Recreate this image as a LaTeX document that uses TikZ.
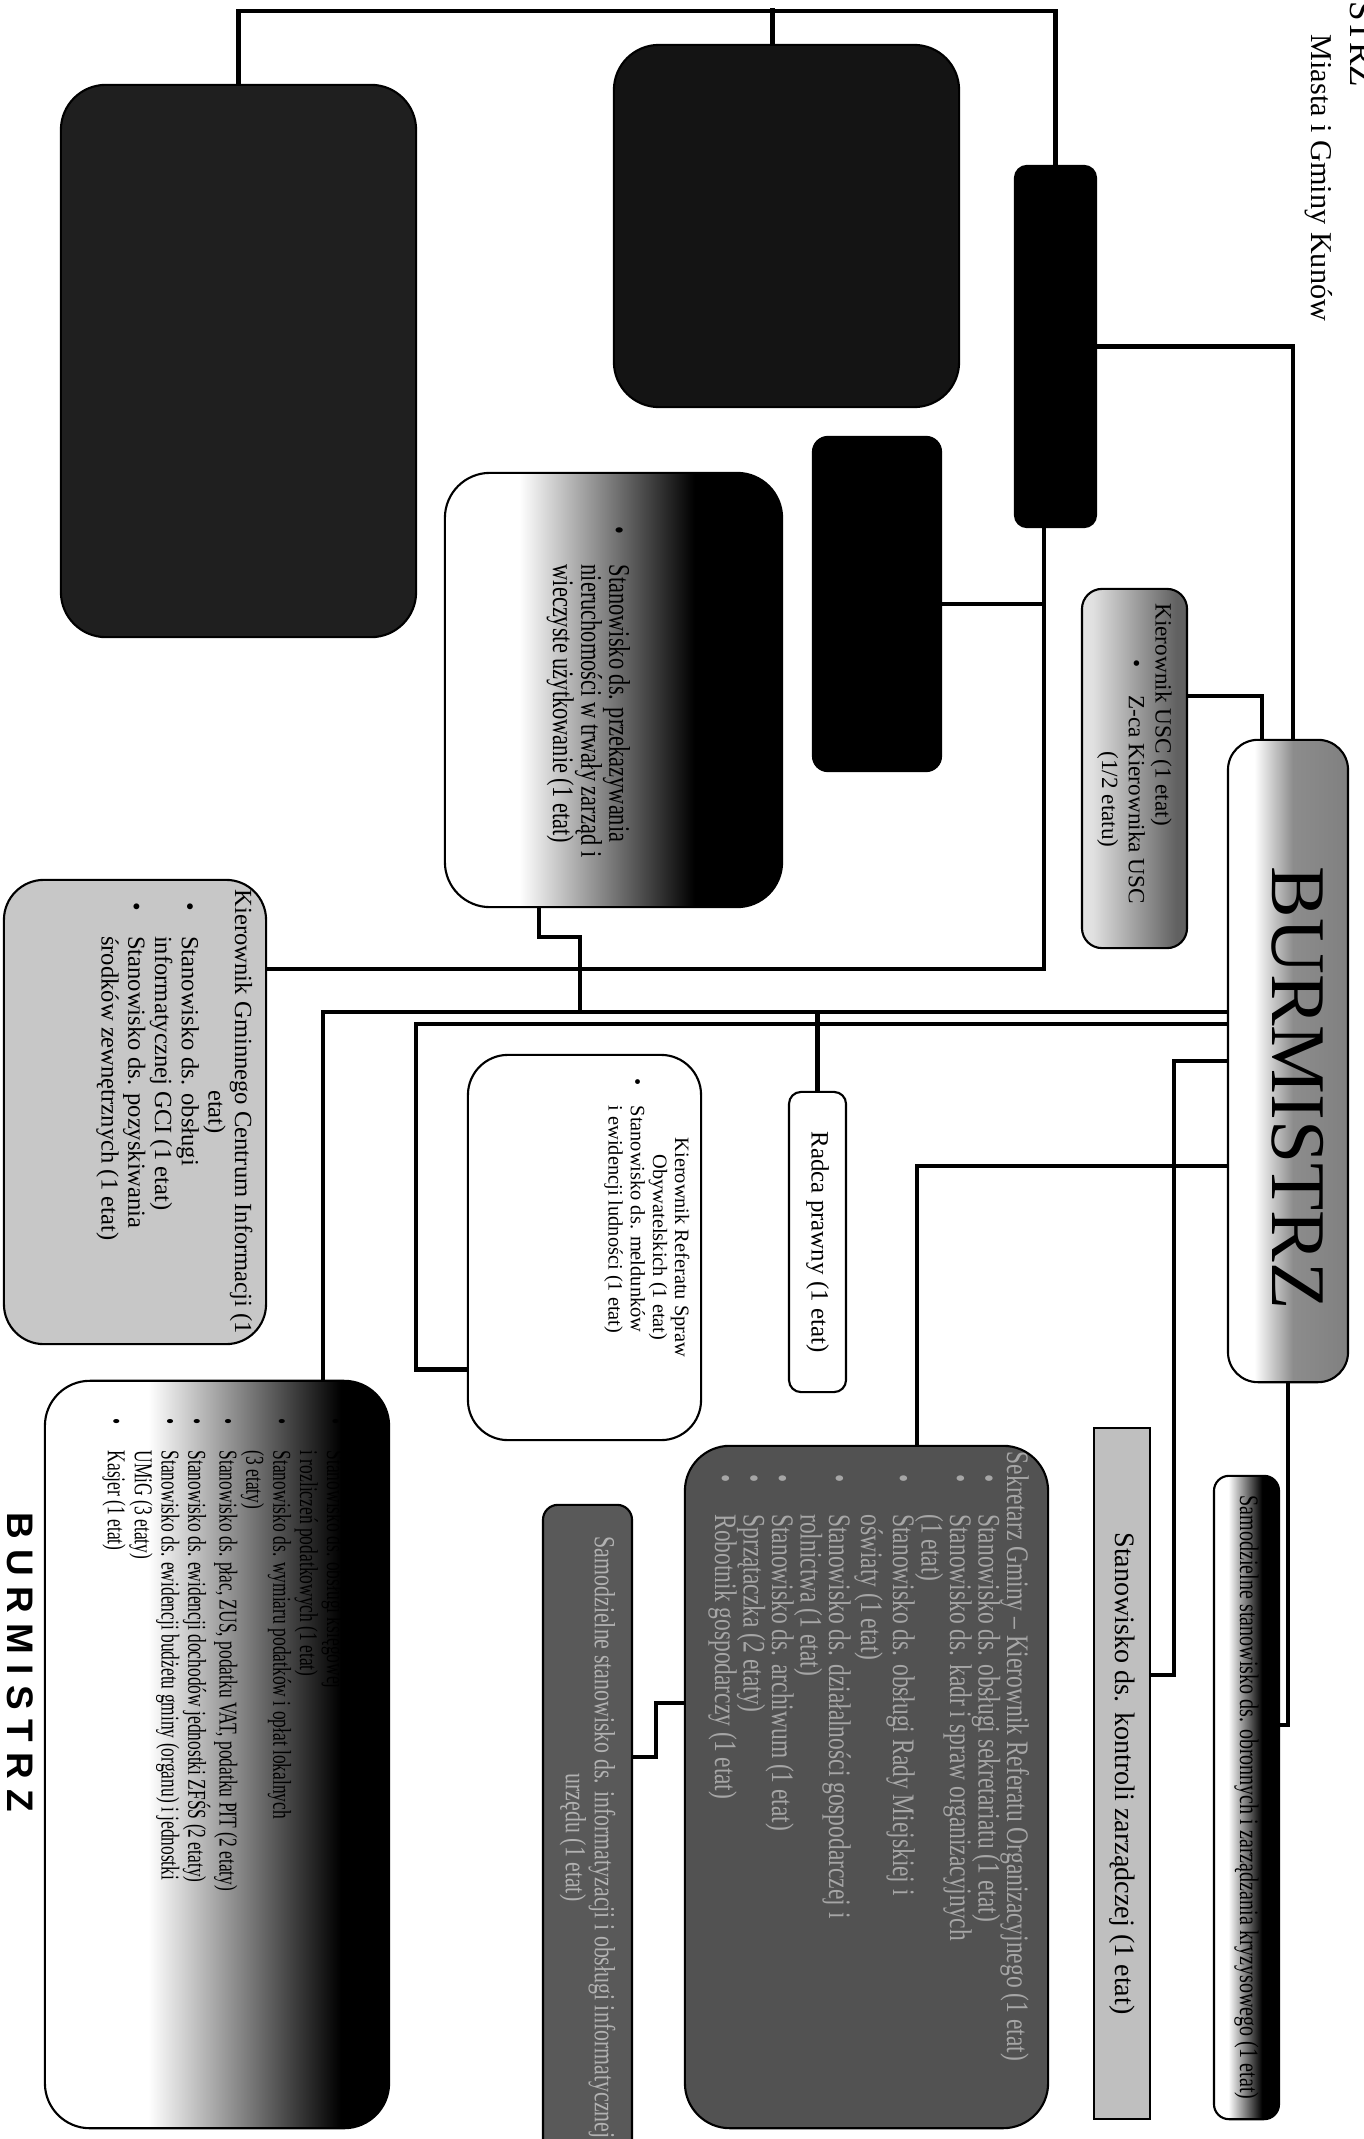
\documentclass[tikz,border=0pt]{standalone}
\usepackage{fontspec}
\usepackage{graphicx}
\setmainfont{Liberation Serif}
\setsansfont{Liberation Sans}
\newfontfamily\waski[FakeStretch=0.75]{Liberation Serif}
\newfontfamily\waskiB[FakeStretch=0.68]{Liberation Serif}

% cieniowania ramek
\pgfdeclarehorizontalshading{bialoczarny}{100bp}{color(0bp)=(white); color(36bp)=(white); color(62bp)=(black); color(100bp)=(black)}
\pgfdeclarehorizontalshading{bialoczarnyB}{100bp}{color(0bp)=(white); color(40bp)=(white); color(68bp)=(black); color(100bp)=(black)}
\pgfdeclarehorizontalshading{burmistrzowe}{100bp}{color(0bp)=(white); color(36bp)=(white); color(52bp)=(black!45); color(100bp)=(black!55)}
\pgfdeclarehorizontalshading{uscowe}{100bp}{color(0bp)=(black!8); color(30bp)=(black!12); color(70bp)=(black!62); color(100bp)=(black!62)}

% tekst obrocony w ramce
\newcommand{\pionowy}[4][c]{\rotatebox{-90}{\parbox[c][#3][#1]{#2}{#4}}}
\newenvironment{punkty}{\begin{list}{\textbullet}{\setlength{\leftmargin}{2em}\setlength{\labelwidth}{1em}\setlength{\labelsep}{1em}\setlength{\itemsep}{0pt}\setlength{\parsep}{0pt}\setlength{\topsep}{0pt}\setlength{\partopsep}{0pt}}}{\end{list}}

\begin{document}
\begin{tikzpicture}[x=0.01cm, y=-0.01cm,
    ramka/.style={draw, line width=0.6pt, inner sep=0pt, rounded corners=4mm},
    polacz/.style={line width=1.3pt, line cap=rect}]

    \fill[white] (0,0) rectangle (1363,2139);
    \useasboundingbox (0,0) rectangle (1363,2139);

    % Naglowek
    \node[rotate=-90, anchor=base east, inner sep=0pt, font=\fontsize{10}{10}\selectfont] (naglowek) at (1350,88) {BURMISTRZ};
    \node[rotate=-90, anchor=base west, inner sep=0pt, font=\fontsize{8.6}{9}\selectfont] (gmina) at (1311,34) {Miasta i Gminy Kunów};

    % Bloki czarne (gora)
    \node[ramka, fill=black!88, minimum width=3.55cm, minimum height=5.52cm, rounded corners=4.5mm] (refGosp) at (238.5,361) {};
    \node[ramka, fill=black!92, minimum width=3.45cm, minimum height=3.62cm, rounded corners=4.5mm] (refInw) at (786.5,226) {};
    \node[ramka, fill=black, minimum width=0.81cm, minimum height=3.61cm, rounded corners=1.2mm] (zastepca) at (1055.5,346.5) {};
    \node[ramka, fill=black, minimum width=1.28cm, minimum height=3.34cm, rounded corners=1.5mm] (stanowisko) at (877,604) {};

    % Grunty
    \node[ramka, shade, shading=bialoczarny, minimum width=3.37cm, minimum height=4.34cm, rounded corners=4.5mm] (grunty) at (613.5,690)
        {\pionowy{3.7cm}{2.9cm}{\fontsize{8.5}{8}\waski\centering\vspace*{0.5cm}
        \begin{punkty}\item Stanowisko ds. przekazywania\\ nieruchomości w trwały zarząd i\\ wieczyste użytkowanie (1 etat)\end{punkty}}};

    % USC
    \node[ramka, shade, shading=uscowe, minimum width=1.05cm, minimum height=3.59cm, rounded corners=2mm] (usc) at (1134.5,768.5)
        {\pionowy{3.3cm}{0.9cm}{\fontsize{6.6}{7.6}\selectfont\raggedright Kierownik USC (1 etat)\par
        \hspace*{2.4em}\textbullet\hspace{0.7em}\parbox[t]{10em}{\centering Z-ca Kierownika USC\\ (1/2 etatu)}}};

    % Burmistrz
    \node[ramka, shade, shading=burmistrzowe, minimum width=1.2cm, minimum height=6.42cm, rounded corners=3mm] (burmistrz) at (1288,1061)
        {\rotatebox{-90}{\fontsize{22}{24}\selectfont\hspace*{0.54cm}\raisebox{2.8pt}[\height][\depth]{BURMISTRZ}}};

    % GCI
    \node[ramka, fill=black!22, minimum width=2.62cm, minimum height=4.64cm] (gci) at (135,1112)
        {\pionowy[t]{4.5cm}{2.35cm}{\fontsize{7}{7.6}\selectfont\centering Kierownik Gminnego Centrum Informacji (1\\ etat)\par
        \begin{punkty}\item Stanowisko ds. obsługi\\ informatycznej GCI (1 etat)\item Stanowisko ds. pozyskiwania\\ środków zewnętrznych (1 etat)\end{punkty}}};

    % Sprawy obywatelskie
    \node[ramka, fill=white, minimum width=2.33cm, minimum height=3.85cm] (obywatel) at (584.5,1247.5)
        {\pionowy[t]{3.65cm}{2.1cm}{\fontsize{5.8}{6.3}\selectfont\centering Kierownik Referatu Spraw\\ Obywatelskich (1 etat)\par
        \begin{punkty}\item Stanowisko ds. meldunków\\ i ewidencji ludności (1 etat)\end{punkty}}};

    % Radca
    \node[ramka, fill=white, minimum width=0.57cm, minimum height=3cm, rounded corners=1.2mm] (radca) at (817.5,1242)
        {\rotatebox{-90}{\fontsize{7.1}{8}\selectfont Radca prawny (1 etat)}};

    % Sekretarz
    \node[ramka, fill=black!68, text=black!35, minimum width=3.63cm, minimum height=6.82cm, rounded corners=4.5mm] (sekretarz) at (866.5,1787)
        {\pionowy[t]{6.7cm}{3.25cm}{\fontsize{8.9}{8.1}\waski\raggedright Sekretarz Gminy – Kierownik Referatu Organizacyjnego (1 etat)\par
        \begin{punkty}
        \item Stanowisko ds. obsługi sekretariatu (1 etat)
        \item Stanowisko ds. kadr i spraw organizacyjnych\\ (1 etat)
        \item Stanowisko ds. obsługi Rady Miejskiej i\\ oświaty (1 etat)
        \item Stanowisko ds. działalności gospodarczej i\\ rolnictwa (1 etat)
        \item Stanowisko ds. archiwum (1 etat)
        \item Sprzątaczka (2 etaty)
        \item Robotnik gospodarczy (1 etat)
        \end{punkty}}};

    % Informatyk
    \node[ramka, fill=black!65, text=black!30, minimum width=0.89cm, minimum height=6.65cm, rounded corners=1.5mm] (informatyk) at (587.5,1837.5)
        {\pionowy{6.5cm}{0.8cm}{\fontsize{8.3}{8.2}\waski\centering Samodzielne stanowisko ds. informatyzacji i obsługi informatycznej\\ urzędu (1 etat)}};

    % Skarbnik
    \node[ramka, shade, shading=bialoczarnyB, minimum width=3.44cm, minimum height=7.47cm, rounded corners=4.5mm] (skarbnik) at (217,1754.5)
        {\pionowy[t]{7.1cm}{3.1cm}{\fontsize{7.3}{6.3}\waskiB\raggedright Skarbnik Gminy – Kierownik Referatu Finansowego (1 etat)\par
        \begin{punkty}
        \item Stanowisko ds. obsługi księgowej\\ i rozliczeń podatkowych (1 etat)
        \item Stanowisko ds. wymiaru podatków i opłat lokalnych\\ (3 etaty)
        \item Stanowisko ds. płac, ZUS, podatku VAT, podatku PIT (2 etaty)
        \item Stanowisko ds. ewidencji dochodów jednostki ZFŚS (2 etaty)
        \item Stanowisko ds. ewidencji budżetu gminy (organu) i jednostki\\ UMiG (3 etaty)
        \item Kasjer (1 etat)
        \end{punkty}}};

    % Kontrola i obrona
    \node[draw, line width=0.6pt, fill=black!25, inner sep=0pt, minimum width=0.56cm, minimum height=6.91cm] (kontrola) at (1122,1773.5)
        {\rotatebox{-90}{\fontsize{8}{9}\selectfont Stanowisko ds. kontroli zarządczej (1 etat)}};
    \node[ramka, shade, shading=bialoczarny, minimum width=0.65cm, minimum height=6.43cm, rounded corners=1.5mm] (obrona) at (1246.5,1797.5)
        {\rotatebox{-90}{\fontsize{7.6}{8}\waski Samodzielne stanowisko ds. obronnych i zarządzania kryzysowego (1 etat)}};

    % Podpis
    \node[rotate=-90, anchor=base west, inner sep=0pt, font=\sffamily\bfseries\fontsize{10.5}{10.5}\selectfont] (podpis) at (8,1512) {B U R M I S T R Z};

    % Punkty pomocnicze
    \coordinate (gora) at (0,11);
    \coordinate (pionZ) at (1044,0);
    \coordinate (szynaA) at (0,1012);
    \coordinate (zakretB) at (416,1024);
    \coordinate (wezelG) at (580,1012);

    % Polaczenia
    \draw[polacz] (refGosp.north) -- (refGosp.north |- gora) -| (zastepca.north);
    \draw[polacz] ([xshift=-1.4mm]refInw.north) -- ++(0,-34);
    \draw[polacz] (zastepca.east) -| ([xshift=0.5mm]burmistrz.north);
    \draw[polacz] ([xshift=-1.15mm]zastepca.south) |- ([yshift=14.3mm]gci.east);
    \draw[polacz] (stanowisko.east) -- (stanowisko.east -| pionZ);
    \draw[polacz] ([yshift=7.25mm]usc.east) -| ([xshift=-2.6mm]burmistrz.north);
    \draw[polacz] ([xshift=10.6mm]skarbnik.north) |- ([yshift=4.9mm]burmistrz.west);
    \draw[polacz] ([yshift=-12.2mm]obywatel.west) -| (zakretB) -- (zakretB -| burmistrz.west);
    \draw[polacz] ([xshift=-7.45mm]grunty.south) -- ++(0,29) -| (wezelG);
    \draw[polacz] (radca.north) -- (radca.north |- szynaA);
    \draw[polacz] (burmistrz.west) -- ++(-53,0) |- ([yshift=9.85mm]kontrola.east);
    \draw[polacz] ([yshift=-10.5mm]burmistrz.west) -| ([xshift=5.05mm]sekretarz.north);
    \draw[polacz] (burmistrz.south) |- ([yshift=7.25mm]obrona.east);
    \draw[polacz] ([yshift=8.05mm]informatyk.east) -- ++(23,0) |- ([yshift=8.4mm]sekretarz.west);

\end{tikzpicture}
\end{document}
